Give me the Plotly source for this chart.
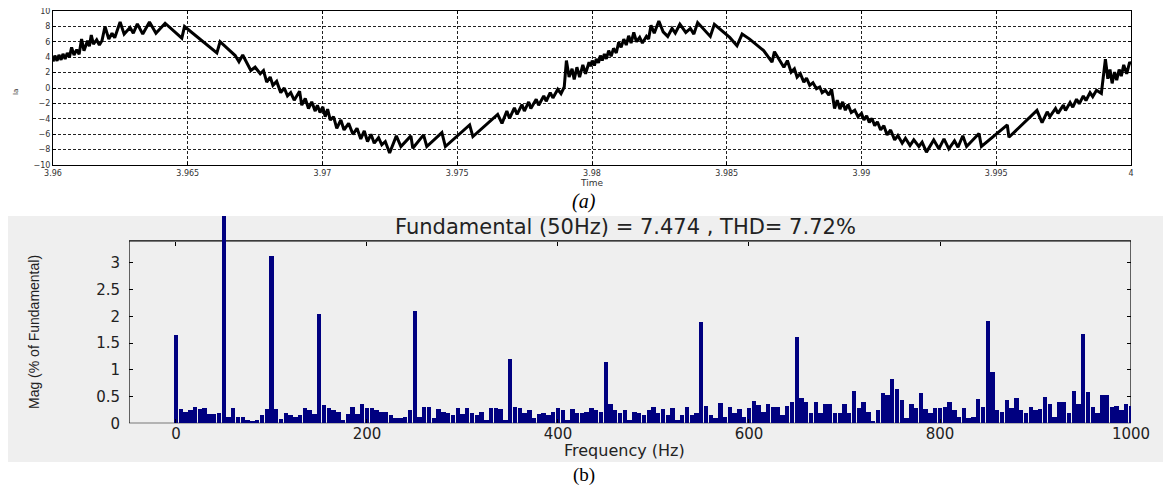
import plotly.graph_objects as go

# ---------------- (a) time-domain current waveform ----------------
time_s = [
    3.96000, 3.96007, 3.96015, 3.96022, 3.96030, 3.96037, 3.96045, 3.96053, 3.96061, 3.96069,
    3.96078, 3.96088, 3.96097, 3.96106, 3.96115, 3.96128, 3.96135, 3.96142, 3.96150, 3.96162,
    3.96172, 3.96182, 3.96193, 3.96207, 3.96219, 3.96229, 3.96249, 3.96264, 3.96286, 3.96298,
    3.96313, 3.96333, 3.96358, 3.96382, 3.96416, 3.96478, 3.96488, 3.96558, 3.96608, 3.96620,
    3.96676, 3.96690, 3.96704, 3.96734, 3.96750, 3.96769, 3.96781, 3.96793, 3.96806, 3.96816,
    3.96830, 3.96845, 3.96858, 3.96870, 3.96882, 3.96895, 3.96915, 3.96923, 3.96936, 3.96948,
    3.96960, 3.96973, 3.96981, 3.96991, 3.97001, 3.97010, 3.97019, 3.97029, 3.97041, 3.97053,
    3.97068, 3.97080, 3.97097, 3.97113, 3.97128, 3.97142, 3.97155, 3.97167, 3.97180, 3.97192,
    3.97208, 3.97220, 3.97233, 3.97249, 3.97274, 3.97291, 3.97328, 3.97335, 3.97375, 3.97387,
    3.97443, 3.97456, 3.97546, 3.97558, 3.97650, 3.97666, 3.97684, 3.97694, 3.97712, 3.97722,
    3.97740, 3.97749, 3.97765, 3.97773, 3.97793, 3.97802, 3.97821, 3.97830, 3.97845, 3.97855,
    3.97873, 3.97885, 3.97897, 3.97905, 3.97915, 3.97926, 3.97934, 3.97944, 3.97954, 3.97966,
    3.97976, 3.97989, 3.97995, 3.98001, 3.98009, 3.98016, 3.98024, 3.98031, 3.98038, 3.98046,
    3.98053, 3.98062, 3.98071, 3.98080, 3.98090, 3.98099, 3.98108, 3.98118, 3.98127, 3.98136,
    3.98145, 3.98155, 3.98165, 3.98177, 3.98187, 3.98202, 3.98210, 3.98219, 3.98231, 3.98248,
    3.98264, 3.98281, 3.98297, 3.98309, 3.98326, 3.98348, 3.98365, 3.98378, 3.98392, 3.98439,
    3.98454, 3.98511, 3.98538, 3.98557, 3.98585, 3.98637, 3.98668, 3.98677, 3.98693, 3.98712,
    3.98725, 3.98739, 3.98751, 3.98761, 3.98773, 3.98786, 3.98796, 3.98808, 3.98820, 3.98833,
    3.98845, 3.98854, 3.98866, 3.98879, 3.98889, 3.98900, 3.98910, 3.98920, 3.98930, 3.98940,
    3.98950, 3.98962, 3.98975, 3.98987, 3.99000, 3.99009, 3.99019, 3.99029, 3.99039, 3.99049,
    3.99059, 3.99071, 3.99083, 3.99095, 3.99108, 3.99123, 3.99135, 3.99151, 3.99163, 3.99180,
    3.99194, 3.99213, 3.99225, 3.99241, 3.99268, 3.99287, 3.99306, 3.99324, 3.99345, 3.99358,
    3.99376, 3.99390, 3.99436, 3.99445, 3.99541, 3.99547, 3.99651, 3.99670, 3.99689, 3.99699,
    3.99720, 3.99729, 3.99749, 3.99757, 3.99774, 3.99784, 3.99798, 3.99808, 3.99823, 3.99833,
    3.99848, 3.99858, 3.99872, 3.99890, 3.99905, 3.99914, 3.99922, 3.99930, 3.99939, 3.99947,
    3.99956, 3.99964, 3.99973, 3.99984, 3.99995, 4.00000,
]
current_a = [
    3.43, 4.21, 3.52, 4.29, 3.65, 4.42, 3.78, 4.55, 3.99, 5.28,
    4.29, 4.98, 4.38, 6.35, 4.85, 6.14, 5.41, 6.87, 5.71, 6.27,
    5.58, 6.18, 7.98, 6.35, 7.12, 6.52, 8.58, 7.00, 7.85, 7.12,
    8.33, 7.00, 8.58, 7.12, 8.41, 6.48, 7.98, 5.92, 4.55, 6.01,
    4.21, 3.40, 4.29, 2.27, 2.70, 1.85, 2.27, 0.77, 1.42, 0.34,
    0.86, -0.60, 0.00, -1.03, -0.60, -1.59, -0.43, -2.23, -1.37, -2.66,
    -1.80, -3.00, -2.23, -3.18, -2.45, -3.73, -2.75, -4.16, -3.73, -5.24,
    -4.16, -5.45, -4.59, -6.01, -5.24, -6.61, -5.58, -6.95, -6.01, -7.17,
    -6.44, -7.38, -6.95, -8.45, -6.22, -7.60, -6.22, -7.82, -6.09, -7.60,
    -5.79, -7.60, -4.79, -6.31, -3.43, -4.59, -3.00, -3.95, -2.58, -3.43,
    -2.15, -3.00, -1.80, -2.66, -1.46, -2.23, -1.03, -1.72, -0.60, -1.29,
    -0.17, -0.73, 0.13, 3.56, 1.42, 2.49, 1.12, 2.70, 1.42, 3.00,
    1.85, 3.35, 2.83, 3.56, 2.92, 3.78, 3.26, 4.21, 3.56, 4.42,
    3.78, 4.85, 4.12, 5.15, 4.55, 5.92, 5.28, 6.35, 5.58, 6.78,
    5.84, 7.21, 6.01, 6.57, 5.84, 6.70, 6.35, 8.15, 7.12, 8.71,
    7.30, 6.70, 7.73, 7.12, 8.28, 7.21, 7.73, 7.00, 8.50, 6.70,
    8.28, 6.57, 5.49, 7.00, 6.35, 4.85, 3.35, 4.72, 3.78, 2.70,
    3.56, 2.06, 2.49, 1.42, 1.85, 0.77, 1.29, 0.34, 0.69, -0.09,
    0.13, -0.60, -0.30, -0.94, -0.17, -2.66, -1.59, -2.75, -1.80, -2.88,
    -2.15, -3.18, -2.88, -3.73, -3.30, -4.16, -3.61, -4.46, -3.95, -4.89,
    -4.38, -5.45, -4.89, -6.09, -5.45, -6.74, -6.18, -7.17, -6.52, -7.47,
    -6.74, -7.60, -7.04, -8.33, -6.74, -7.90, -6.61, -7.90, -6.87, -7.70,
    -6.20, -7.60, -5.90, -7.60, -4.80, -6.40, -2.90, -4.50, -3.09, -3.73,
    -2.66, -3.30, -2.23, -2.92, -1.89, -2.49, -1.46, -2.06, -1.03, -1.63,
    -0.60, -1.12, -0.30, -0.70, 3.75, 1.20, 2.40, 0.60, 2.06, 1.03,
    2.40, 1.55, 3.00, 1.85, 3.35, 3.10,
]
time_ticks = [3.96, 3.965, 3.97, 3.975, 3.98, 3.985, 3.99, 3.995, 4.0]
time_tick_text = ["3.96", "3.965", "3.97", "3.975", "3.98", "3.985", "3.99", "3.995", "4"]
ia_ticks = [-10, -8, -6, -4, -2, 0, 2, 4, 6, 8, 10]

# ---------------- (b) FFT spectrum ----------------
freq_hz = list(range(0, 1001, 5))
mag_pct = [
    1.65, 0.26, 0.22, 0.24, 0.30, 0.27, 0.28, 0.18, 0.17, 0.20,
    100.0, 0.12, 0.28, 0.12, 0.12, 0.07, 0.05, 0.07, 0.16, 0.26,
    3.12, 0.26, 0.08, 0.19, 0.16, 0.12, 0.16, 0.28, 0.25, 0.18,
    2.05, 0.34, 0.28, 0.25, 0.22, 0.06, 0.18, 0.30, 0.17, 0.36,
    0.28,
    0.28, 0.25, 0.22, 0.22, 0.16, 0.10, 0.09, 0.12, 0.24, 2.10,
    0.12, 0.31, 0.30, 0.09, 0.26, 0.22, 0.20, 0.16, 0.28, 0.18,
    0.28, 0.19, 0.16, 0.22, 0.06, 0.28, 0.28, 0.26, 0.06, 1.20,
    0.31, 0.28, 0.19, 0.24, 0.10, 0.18, 0.19, 0.16, 0.22, 0.28,
    0.25, 0.06, 0.26, 0.19, 0.19, 0.22, 0.28, 0.25, 0.22, 1.14,
    0.36, 0.25, 0.19, 0.25, 0.06, 0.22, 0.19, 0.16, 0.24, 0.30,
    0.19, 0.26, 0.16, 0.28, 0.06, 0.16, 0.30, 0.16, 0.20, 1.90,
    0.32, 0.16, 0.09, 0.38, 0.12, 0.30, 0.19, 0.26, 0.12, 0.28,
    0.42, 0.35, 0.22, 0.36, 0.31, 0.31, 0.16, 0.32, 0.40, 1.62,
    0.47, 0.40, 0.19, 0.40, 0.19, 0.37, 0.37, 0.20, 0.20, 0.36,
    0.20, 0.61, 0.28, 0.39, 0.22, 0.05, 0.24, 0.56, 0.53, 0.83,
    0.65, 0.44, 0.09, 0.37, 0.28, 0.56, 0.26, 0.19, 0.28, 0.28,
    0.31, 0.39, 0.24, 0.11, 0.28, 0.09, 0.12, 0.45, 0.31, 1.91,
    0.95, 0.25, 0.22, 0.44, 0.28, 0.47, 0.25, 0.20, 0.30, 0.25,
    0.26, 0.49, 0.37, 0.12, 0.39, 0.39, 0.20, 0.61, 0.36, 1.66,
    0.59, 0.31, 0.19, 0.53, 0.53, 0.30, 0.32, 0.25, 0.37, 0.32,
]
freq_ticks = [0, 200, 400, 600, 800, 1000]
mag_ticks = [0, 0.5, 1, 1.5, 2, 2.5, 3]
mag_tick_text = ["0", "0.5", "1", "1.5", "2", "2.5", "3"]
fft_title = "Fundamental (50Hz) = 7.474 , THD= 7.72%"

# page has an 8 px body margin: the figure starts at (8, 8) in the window
OFF = 8
W, H = 1171 - OFF, 487 - OFF
def px_x(p): return (p - OFF) / W
def px_y(p): return 1 - (p - OFF) / H

X2_MIN, X2_MAX = -49.2, 1000
Y2_FRAME_TOP = 3.41
Y2_MAX = (423.3 - 216) / 53.5

fig = go.Figure()
fig.add_trace(go.Scatter(x=time_s, y=current_a, mode="lines",
                         line=dict(color="black", width=3),
                         xaxis="x", yaxis="y", showlegend=False, hoverinfo="skip"))
fig.add_trace(go.Bar(x=freq_hz, y=mag_pct, width=4.6, marker=dict(color="#000080", line=dict(width=0)),
                     xaxis="x2", yaxis="y2", showlegend=False))
fig.add_trace(go.Scatter(x=[None], y=[None], xaxis="x3", yaxis="y2", showlegend=False))

small = dict(family="DejaVu Sans", size=8, color="#333333")
big_tick = dict(family="DejaVu Sans", size=15, color="#222222")
fig.update_layout(
    width=W, height=H, margin=dict(l=0, r=0, t=0, b=0, autoexpand=False),
    paper_bgcolor="white", plot_bgcolor="white", bargap=0,
    xaxis=dict(domain=[px_x(53), px_x(1131)], anchor="y", range=[3.96, 4.0], automargin=False,
               tickvals=time_ticks, ticktext=time_tick_text, tickfont=small, ticklabeloverflow="allow",
               showgrid=True, gridcolor="#222222", griddash="3px,2px", gridwidth=1,
               showline=True, linecolor="black", linewidth=1, mirror="ticks",
               ticks="inside", ticklen=3, tickcolor="black", zeroline=False,
               title=dict(text="Time", font=dict(family="DejaVu Sans", size=9, color="#333333"), standoff=0)),
    yaxis=dict(domain=[px_y(165), px_y(11)], anchor="x", range=[-10, 10], automargin=False,
               tickvals=ia_ticks, tickfont=small, ticklabeloverflow="allow",
               showgrid=True, gridcolor="#222222", griddash="3px,2px", gridwidth=1,
               showline=True, linecolor="black", linewidth=1, mirror="ticks",
               ticks="inside", ticklen=3, tickcolor="black", zeroline=False),
    xaxis2=dict(domain=[px_x(129), px_x(1131)], anchor="y2", range=[X2_MIN, X2_MAX], automargin=False,
                tickvals=freq_ticks, tickfont=big_tick, ticklabeloverflow="allow",
                showgrid=False, zeroline=False, showline=False,
                ticks="inside", ticklen=4, tickcolor="black"),
    xaxis3=dict(overlaying="x2", matches="x2", side="top", anchor="free", position=px_y(241),
                automargin=False, tickvals=freq_ticks, showticklabels=False, showgrid=False,
                zeroline=False, showline=False, ticks="inside", ticklen=4, tickcolor="black"),
    yaxis2=dict(domain=[px_y(423.3), px_y(216)], anchor="x2", range=[0, Y2_MAX], automargin=False,
                tickvals=mag_ticks, ticktext=mag_tick_text, tickfont=big_tick, ticklabelstandoff=8,
                ticklabeloverflow="allow",
                showgrid=False, zeroline=False, showline=False, mirror="ticks",
                ticks="inside", ticklen=4, tickcolor="black"),
    shapes=[
        dict(type="rect", xref="paper", yref="paper", x0=0, x1=1, y0=px_y(462), y1=px_y(216),
             fillcolor="#efefef", line=dict(width=0), layer="below"),
        dict(type="rect", xref="x2", yref="y2", x0=X2_MIN, x1=X2_MAX, y0=Y2_FRAME_TOP, y1=Y2_MAX,
             fillcolor="#efefef", line=dict(width=0), layer="below"),
        dict(type="rect", xref="x2", yref="y2", x0=X2_MIN, x1=X2_MAX, y0=0, y1=Y2_FRAME_TOP,
             fillcolor="rgba(0,0,0,0)", line=dict(color="black", width=1.2), layer="below"),
    ],
    annotations=[
        dict(text="Ia", x=px_x(10), y=px_y(87), xref="paper", yref="paper", showarrow=False,
             textangle=-90, font=dict(family="DejaVu Sans", size=7, color="#333333")),
        dict(text="<i>(a)</i>", x=px_x(584), y=px_y(201), xref="paper", yref="paper", showarrow=False,
             font=dict(family="Liberation Serif", size=20, color="black"),
             xanchor="center", yanchor="middle"),
        dict(text=fft_title, x=px_x(625), y=px_y(227), xref="paper", yref="paper", showarrow=False,
             font=dict(family="DejaVu Sans", size=21, color="#222222"), xanchor="center", yanchor="middle"),
        dict(text="Frequency (Hz)", x=px_x(624), y=px_y(450), xref="paper", yref="paper", showarrow=False,
             font=dict(family="DejaVu Sans", size=16, color="#222222"), xanchor="center", yanchor="middle"),
        dict(text="Mag (% of Fundamental)", x=px_x(34), y=px_y(332), xref="paper", yref="paper",
             showarrow=False, textangle=-90,
             font=dict(family="Liberation Sans", size=14, color="#222222"), xanchor="center", yanchor="middle"),
        dict(text="(b)", x=px_x(584), y=px_y(475), xref="paper", yref="paper", showarrow=False,
             font=dict(family="Liberation Serif", size=19, color="black"), xanchor="center", yanchor="middle"),
    ],
)

assert len(time_s) == len(current_a), (len(time_s), len(current_a))
assert len(freq_hz) == len(mag_pct), (len(freq_hz), len(mag_pct))
fig.write_html("out.html")
